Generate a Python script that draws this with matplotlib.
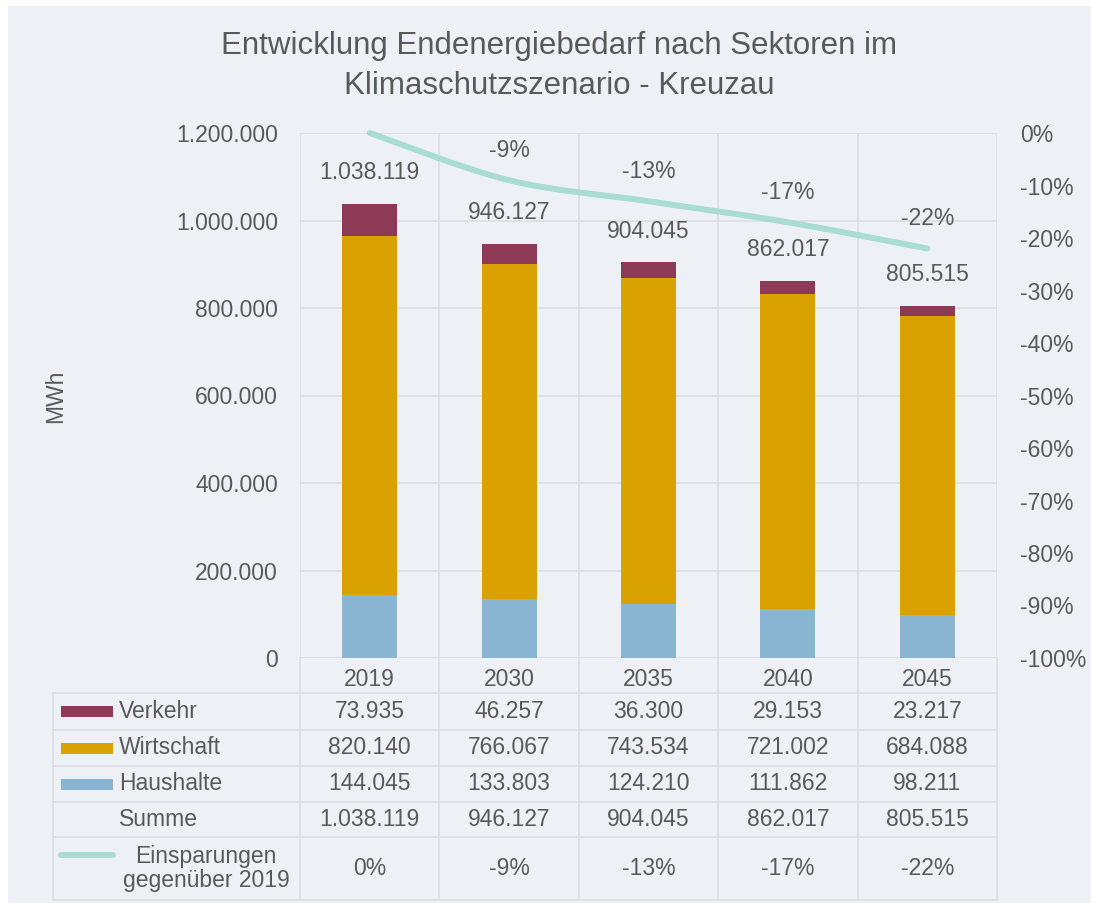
import matplotlib
matplotlib.use("Agg")
import matplotlib.pyplot as plt
import matplotlib.transforms as mtransforms
from matplotlib.path import Path
from matplotlib.patches import PathPatch, Rectangle
from matplotlib.lines import Line2D
from matplotlib.ticker import FixedLocator

# Endenergiebedarf in MWh je Sektor
years = ["2019", "2030", "2035", "2040", "2045"]
verkehr = [73935, 46257, 36300, 29153, 23217]
wirtschaft = [820140, 766067, 743534, 721002, 684088]
haushalte = [144045, 133803, 124210, 111862, 98211]
summe = [1038119, 946127, 904045, 862017, 805515]
einsparung = [0, -9, -13, -17, -22]   # % gegenüber 2019

C_BG = "#edf1f5"
C_GRID = "#dadee3"
C_TXT = "#595959"
C_VERK = "#8c3a55"
C_WIRT = "#d9a200"
C_HAUS = "#89b4d2"
C_LINE = "#a9dcd3"

W, H = 1093, 906
FS = 16.5
plt.rcParams["font.family"] = ["Liberation Sans", "DejaVu Sans"]
plt.rcParams["text.color"] = C_TXT


def fx(px):
    return px / W


def fy(py):
    return 1 - py / H


def de(v):
    return f"{v:,}".replace(",", ".")


fig = plt.figure(figsize=(W / 100, H / 100), dpi=100, facecolor="white")
fig.add_artist(Rectangle((fx(8), fy(903)), fx(1091) - fx(8), fy(6) - fy(903),
                         transform=fig.transFigure, facecolor=C_BG,
                         edgecolor="none", zorder=-10))

# plot area
ax = fig.add_axes([fx(300), fy(658), fx(997) - fx(300), fy(133) - fy(658)])
ax.set_facecolor("none")
x = list(range(len(years)))
bw = 0.395
ax.bar(x, haushalte, bw, color=C_HAUS, zorder=3)
bot = haushalte
ax.bar(x, wirtschaft, bw, bottom=bot, color=C_WIRT, zorder=3)
bot = [a + b for a, b in zip(haushalte, wirtschaft)]
ax.bar(x, verkehr, bw, bottom=bot, color=C_VERK, zorder=3)

for i, s in enumerate(summe):
    ax.annotate(de(s), (i, s), xytext=(0, 22.5), textcoords="offset points",
                ha="center", va="center", fontsize=FS, color=C_TXT, zorder=5)

ax.set_xlim(-0.5, len(years) - 0.5)
ax.set_ylim(0, 1200000)
ax.set_yticks(range(0, 1200001, 200000))
ax.set_yticklabels([de(v) for v in range(0, 1200001, 200000)])
ax.set_xticks(x)
ax.set_xticklabels(years)
ax.xaxis.set_minor_locator(FixedLocator([i - 0.5 for i in range(len(years) + 1)]))
ax.tick_params(axis="both", which="both", length=0, labelsize=FS, colors=C_TXT)
ax.tick_params(axis="y", pad=15.8)
ax.tick_params(axis="x", pad=7)
ax.grid(axis="y", which="major", color=C_GRID, lw=1.2, zorder=0)
ax.grid(axis="x", which="minor", color=C_GRID, lw=1.2, zorder=0)
for sp in ax.spines.values():
    sp.set_visible(False)

# Einsparungen, rechte Achse
ax2 = ax.twinx()
ax2.set_ylim(-100, 0)
ax2.set_yticks(range(-100, 1, 10))
ax2.set_yticklabels([f"{t}%" for t in range(-100, 1, 10)])
ax2.tick_params(axis="y", length=0, labelsize=FS, colors=C_TXT, pad=16.5)
for sp in ax2.spines.values():
    sp.set_visible(False)

# geglättete Linie (Catmull-Rom als Bezier)
pts = list(zip(x, einsparung))
verts = [pts[0]]
codes = [Path.MOVETO]
for i in range(len(pts) - 1):
    p0 = pts[i - 1] if i > 0 else pts[i]
    p1, p2 = pts[i], pts[i + 1]
    p3 = pts[i + 2] if i + 2 < len(pts) else pts[i + 1]
    c1 = (p1[0] + (p2[0] - p0[0]) / 6, p1[1] + (p2[1] - p0[1]) / 6)
    c2 = (p2[0] - (p3[0] - p1[0]) / 6, p2[1] - (p3[1] - p1[1]) / 6)
    verts += [c1, c2, p2]
    codes += [Path.CURVE4] * 3
ax2.add_patch(PathPatch(Path(verts, codes), facecolor="none", edgecolor=C_LINE,
                        lw=4.3, capstyle="round", joinstyle="round", zorder=4,
                        clip_on=False))
for i, p in enumerate(einsparung):
    if i == 0:
        continue
    ax2.annotate(f"{p}%", (i, p), xytext=(0, 21.6), textcoords="offset points",
                 ha="center", va="center", fontsize=FS, color=C_TXT)

fig.text(fx(56), fy(396), "MWh", rotation=90, ha="center", va="center",
         fontsize=FS, color=C_TXT)

fig.text(fx(559), fy(46), "Entwicklung Endenergiebedarf nach Sektoren im",
         ha="center", va="center", fontsize=22.5, color=C_TXT)
fig.text(fx(559), fy(86), "Klimaschutzszenario - Kreuzau",
         ha="center", va="center", fontsize=22.5, color=C_TXT)

# Datentabelle unter dem Diagramm
tx = mtransforms.blended_transform_factory(ax.transData, fig.transFigure)
rows = [693, 730, 766, 802, 837, 900]
left_px = 53
for r in rows:
    fig.add_artist(Line2D([fx(left_px), fx(997)], [fy(r), fy(r)],
                          transform=fig.transFigure, color=C_GRID, lw=1.2))
fig.add_artist(Line2D([fx(left_px), fx(left_px)], [fy(693), fy(900)],
                      transform=fig.transFigure, color=C_GRID, lw=1.2))
for b in [i - 0.5 for i in range(len(years) + 1)]:
    fig.add_artist(Line2D([b, b], [fy(658), fy(900)], transform=tx,
                          color=C_GRID, lw=1.2))

table_rows = [
    ("Verkehr", [de(v) for v in verkehr], C_VERK),
    ("Wirtschaft", [de(v) for v in wirtschaft], C_WIRT),
    ("Haushalte", [de(v) for v in haushalte], C_HAUS),
    ("Summe", [de(v) for v in summe], None),
]
for k, (name, vals, col) in enumerate(table_rows):
    yc = (rows[k] + rows[k + 1]) / 2
    if col:
        fig.add_artist(Rectangle((fx(61), fy(yc + 5.5)), fx(113) - fx(61), 11 / H,
                                 transform=fig.transFigure, facecolor=col,
                                 edgecolor="none"))
    fig.text(fx(119), fy(yc), name, ha="left", va="center", fontsize=FS,
             color=C_TXT)
    for i, v in enumerate(vals):
        fig.text(i, fy(yc), v, transform=tx, ha="center", va="center",
                 fontsize=FS, color=C_TXT)

yc = (rows[4] + rows[5]) / 2
fig.add_artist(Line2D([fx(61), fx(113)], [fy(yc - 14), fy(yc - 14)],
                      transform=fig.transFigure, color=C_LINE, lw=4.3,
                      solid_capstyle="round"))
fig.text(fx(206), fy(yc), "Einsparungen\ngegenüber 2019", ha="center",
         va="center", multialignment="center", fontsize=FS, color=C_TXT,
         linespacing=1.0)
for i, p in enumerate(einsparung):
    fig.text(i, fy(yc), f"{p}%", transform=tx, ha="center", va="center",
             fontsize=FS, color=C_TXT)

fig.savefig("out.png", dpi=100, facecolor="white")
